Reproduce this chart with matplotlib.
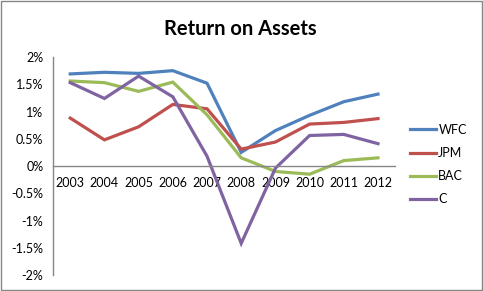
import matplotlib
matplotlib.use("Agg")
import matplotlib.pyplot as plt
from matplotlib.patches import Rectangle
from matplotlib.ticker import FuncFormatter

plt.rcParams['font.family'] = ['Lato', 'DejaVu Sans']

# ── Data ──────────────────────────────────────────────
years = ['2003', '2004', '2005', '2006', '2007', '2008', '2009', '2010', '2011', '2012']
wfc = [1.69, 1.72, 1.70, 1.75, 1.52, 0.25, 0.65, 0.93, 1.18, 1.32]
jpm = [0.88, 0.48, 0.72, 1.13, 1.05, 0.31, 0.44, 0.77, 0.80, 0.87]
bac = [1.56, 1.53, 1.37, 1.54, 0.94, 0.15, -0.10, -0.15, 0.10, 0.15]
citi = [1.53, 1.24, 1.65, 1.27, 0.18, -1.42, -0.04, 0.56, 0.58, 0.41]

series = [('WFC', wfc, '#4F81BD'),
          ('JPM', jpm, '#C0504D'),
          ('BAC', bac, '#9BBB59'),
          ('C', citi, '#8064A2')]

fig = plt.figure(figsize=(4.83, 2.91), dpi=100)
ax = fig.add_axes([0.110, 0.055, 0.708, 0.749])

x = range(len(years))
for name, vals, col in series:
    ax.plot(x, vals, color=col, linewidth=2.3, label=name,
            solid_joinstyle='miter')

ax.set_xlim(-0.5, len(years) - 0.5)
ax.set_ylim(-2, 2)
ax.set_yticks([-2, -1.5, -1, -0.5, 0, 0.5, 1, 1.5, 2])
ax.yaxis.set_major_formatter(FuncFormatter(lambda v, p: f'{v:g}%'))
ax.set_xticks(list(x))
ax.set_xticklabels(years)

ax.spines['top'].set_visible(False)
ax.spines['right'].set_visible(False)
ax.spines['bottom'].set_position(('data', 0))
for s in ['left', 'bottom']:
    ax.spines[s].set_color('#868686')
    ax.spines[s].set_linewidth(1)
ax.tick_params(axis='both', length=0, labelsize=9, colors='black')
ax.tick_params(axis='x', pad=8)
ax.tick_params(axis='y', pad=7)
ax.set_facecolor('none')

fig.text(0.497, 0.900, 'Return on Assets', ha='center', va='center',
         fontsize=14.5, fontweight='bold')

ax.legend(loc='upper left', bbox_to_anchor=(0.848, 0.575),
          bbox_transform=fig.transFigure, frameon=False, fontsize=9,
          handlelength=2.1, handletextpad=0.2, labelspacing=0.9,
          borderaxespad=0, borderpad=0)

fig.patches.append(Rectangle((0.002, 0.003), 0.995, 0.993,
                             transform=fig.transFigure, fill=False,
                             edgecolor='#868686', linewidth=1))

fig.savefig('out.png', dpi=100)
